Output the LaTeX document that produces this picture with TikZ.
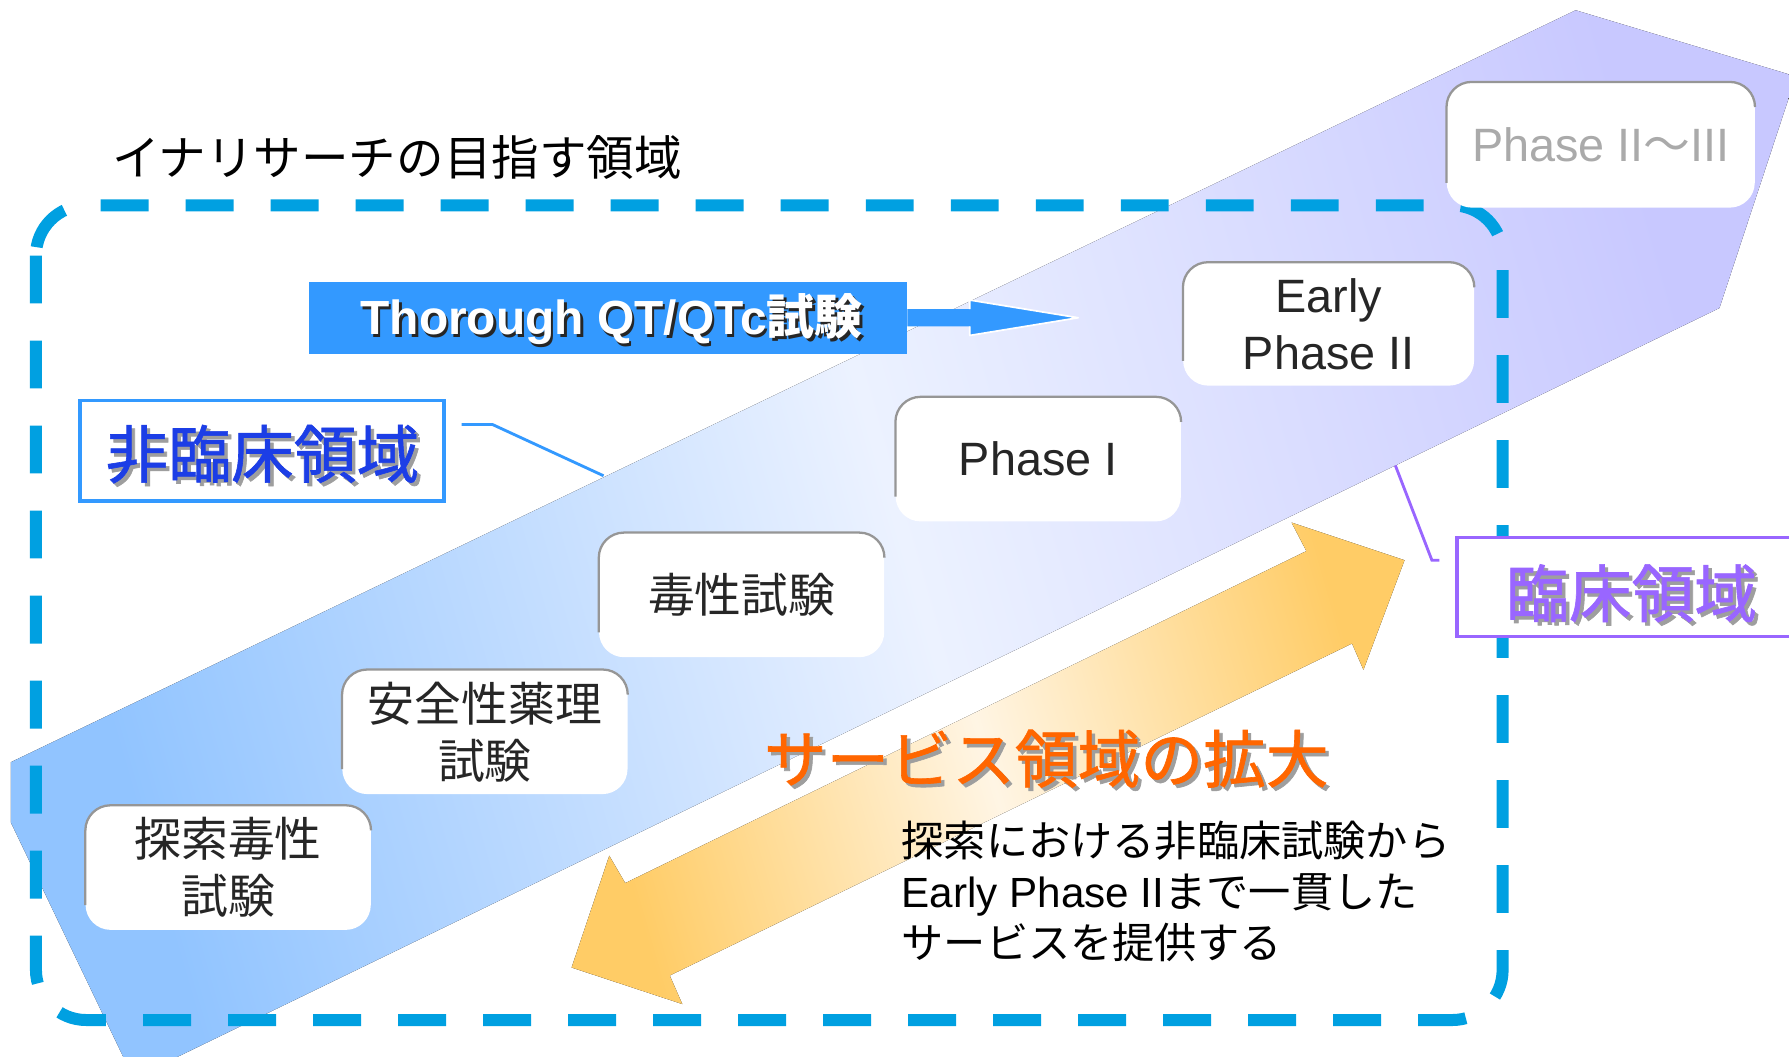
\documentclass[tikz,border=0pt]{standalone}
\usepackage{fontspec}
\setmainfont{Liberation Sans}
\newfontfamily\jp{Noto Sans CJK JP}
\newfontfamily\jpm[FakeBold=1]{Noto Sans CJK JP}
\definecolor{dashcyan}{RGB}{0,160,225}
\definecolor{qtblue}{RGB}{51,153,255}
\definecolor{ncblue}{RGB}{28,62,230}
\definecolor{clpurple}{RGB}{153,102,255}
\definecolor{svorange}{RGB}{255,102,0}
\definecolor{boxgray}{RGB}{150,150,150}
\definecolor{boxtext}{RGB}{38,38,38}
\definecolor{ph3gray}{RGB}{170,170,170}
\definecolor{bandblue}{RGB}{145,196,255}
\definecolor{bandmid}{RGB}{236,242,255}
\definecolor{bandlav}{RGB}{200,200,255}
\definecolor{arrorange}{RGB}{255,204,102}
\definecolor{arrmid}{RGB}{255,245,228}
\newcommand\bevelof[1]{\draw[bevel] ([yshift=22pt]#1.south west) -- (#1.north west) -- (#1.north east) -- ([yshift=-22pt]#1.north east);}
\begin{document}
\begin{tikzpicture}[x=1pt,y=-1pt,
  stagebox/.style={rectangle, rounded corners=22pt, fill=white, minimum width=250pt, minimum height=109pt, inner sep=0pt, align=center, text=boxtext, font=\fontsize{41}{50}\selectfont},
  jpbox/.style={stagebox, font=\jp\fontsize{41}{50}\selectfont},
  bevel/.style={draw=boxgray, line width=2pt, rounded corners=22pt},
  labelbox/.style={rectangle, fill=white, line width=3pt, inner sep=0pt},
  biglabel/.style={inner sep=0pt, font=\jpm\fontsize{55}{66}\selectfont},
  shadowtxt/.style={text=black!38},
  lead/.style={line width=2.5pt},
  desc/.style={anchor=base west, inner sep=0pt, font=\fontsize{37}{44}\selectfont, text=black}
]
\path[use as bounding box, fill=white] (0,0) rectangle (1568,926);

% diagonal band
\fill[left color=bandblue, right color=bandlav, middle color=bandmid, shading angle=106]
  (9.6,668) -- (1381,9) -- (1574,67) -- (1507,270) -- (117,945) -- (9.6,721) -- cycle;

% target region
\draw[dashcyan, line width=10.5pt, dash pattern=on 42pt off 32.5pt, rounded corners=44pt]
  (31.5,180) rectangle (1317,894);

% orange double arrow
\fill[left color=arrorange, right color=arrorange, middle color=arrmid, shading angle=106]
  (501,848) -- (534,750) -- (548,774) -- (1145,483) -- (1132,458) -- (1231,491)
  -- (1195,587) -- (1185,564) -- (587,855) -- (598,880) -- cycle;

% Thorough QT box and arrow
\node[rectangle, fill=qtblue, minimum width=524pt, minimum height=63pt, inner sep=0pt] (tq) at (533,278.5) {};
\fill[qtblue] ([yshift=7.5pt]tq.east) -- (850,271) -- (850,263) -- (945,278.5) -- (850,294) -- (850,286) -- ([yshift=-7.5pt]tq.east) -- cycle;
\draw[white, line width=1.5pt, line join=round] (850,271) -- (850,263) -- (945,278.5) -- (850,294) -- (850,286);
\node[inner sep=0pt, text=black!85, font=\bfseries\fontsize{42}{50}\selectfont] (tqs) at (538,282) {Thorough QT/QTc{\jp\bfseries 試験}};
\node[inner sep=0pt, text=white, font=\bfseries\fontsize{42}{50}\selectfont] (tqt) at (536,280) {Thorough QT/QTc{\jp\bfseries 試験}};

% stage boxes
\node[jpbox] (s1) at (200,760.5) {探索毒性\\試験};
\bevelof{s1}
\node[jpbox] (s2) at (425,641.5) {安全性薬理\\試験};
\bevelof{s2}
\node[jpbox] (s3) at (650,521.5) {毒性試験};
\bevelof{s3}
\node[stagebox] (s4) at (910,402.5) {Phase I};
\bevelof{s4}
\node[stagebox, minimum width=255pt, minimum height=108pt] (s5) at (1164.5,284) {Early\\Phase II};
\bevelof{s5}
\node[stagebox, minimum width=270pt, minimum height=110pt, text=ph3gray] (s6) at (1403,127) {Phase II{\jp ～}III};
\bevelof{s6}

% non-clinical label
\node[labelbox, draw=qtblue, minimum width=319pt, minimum height=88pt] (ncbox) at (229.5,395) {};
\node[biglabel, shadowtxt] (ncs) at (233,401) {非臨床領域};
\node[biglabel, text=ncblue] (nct) at (230,398) {非臨床領域};
\coordinate (ncend) at (529,417);
\draw[lead, qtblue] ([xshift=14pt,yshift=23pt]ncbox.east) -- ++(27,0) -- (ncend);

% clinical label
\node[labelbox, draw=clpurple, minimum width=306pt, minimum height=87pt] (clbox) at (1430,514.5) {};
\node[biglabel, shadowtxt] (cls) at (1433,523) {臨床領域};
\node[biglabel, text=clpurple] (clt) at (1430,520) {臨床領域};
\coordinate (clstart) at (1223,408);
\draw[lead, clpurple] (clstart) -- (1255,491) -- ([xshift=-14pt,yshift=23.5pt]clbox.west);

% service expansion
\node[biglabel, shadowtxt] (svs) at (920,668) {サービス領域の拡大};
\node[biglabel, text=svorange] (sv) at (917,665) {サービス領域の拡大};

% title
\node[anchor=west, inner sep=0pt, font=\jp\fontsize{41.7}{50}\selectfont] (title) at (98,138) {イナリサーチの目指す領域};

% description
\node[desc] (d1) at (790,751) {\jp 探索における非臨床試験から};
\node[desc] (d2) at (790,795) {Early Phase II{\jp まで一貫した}};
\node[desc] (d3) at (790,840) {\jp サービスを提供する};
\end{tikzpicture}
\end{document}
